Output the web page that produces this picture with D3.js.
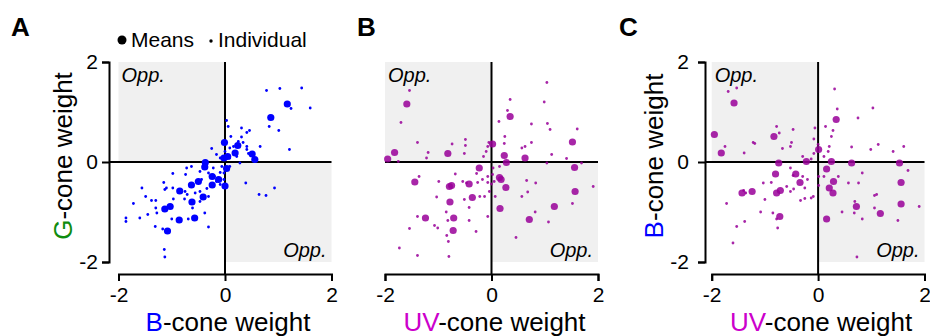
<!DOCTYPE html>
<html>
<head>
<meta charset="utf-8">
<script src="https://cdn.jsdelivr.net/npm/d3@7"></script>
<style>
  body { margin: 0; background: #fff; }
  svg { display: block; font-family: "Liberation Sans", Arial, sans-serif; }
</style>
</head>
<body>
<div id="chart"></div>
<script>
// tick values shared by every panel
const ticks = [-2, 0, 2];

// panel A: B-cone (x) vs G-cone (y)
const aMeans = [
  [1.17, 1.16], [0.86, 0.89], [0.51, 0.16], [0.56, 0.05], [0.24, 0.33], [0.19, 0.18],
  [0.05, 0.11], [-0.01, 0.39], [0.03, -0.13], [-0.02, 0.08], [0.0, -0.48], [-0.12, -0.35],
  [-0.24, -0.46], [-0.24, -0.29], [-0.38, -0.1], [-0.37, -0.01], [-0.41, -0.7], [-0.5, -0.39],
  [-0.63, -0.46], [-0.62, -0.8], [-0.57, -1.12], [-0.85, -0.58], [-1.03, -0.89], [-1.13, -0.94],
  [-0.86, -1.16], [-1.08, -1.38]
];
const aIndiv = [
  [0.78, 1.43], [1.03, 1.47], [1.44, 1.48], [1.24, 1.07], [1.6, 1.08], [0.83, 0.71], [1.01, 0.63],
  [1.21, 0.25], [0.66, 0.31], [0.41, 0.59], [0.31, 0.68], [0.46, 0.63], [0.06, 0.71], [0.03, 0.83],
  [0.11, 0.51], [0.31, 0.5], [0.34, 0.39], [0.41, 0.31], [0.41, 0.25], [0.44, 0.17], [0.28, -0.02],
  [0.39, -0.42], [0.64, -0.65], [0.77, -0.67], [0.93, -0.52], [0.16, 0.31], [0.09, 0.28],
  [0.25, 0.41], [-0.25, 0.27], [-0.16, 0.15], [-0.09, 0.08], [0.0, 0.21], [0.09, 0.08], [0.22, 0.11],
  [-0.72, -0.12], [-0.63, -0.09], [-0.98, -0.23], [-0.74, -0.25], [-0.47, -0.19], [-0.44, -0.35],
  [-0.31, -0.22], [-0.22, -0.12], [-0.09, -0.21], [-0.06, -0.09], [-1.15, -0.41], [-1.13, -0.55],
  [-0.98, -0.52], [-1.1, -0.52], [-1.56, -0.52], [-1.49, -0.69], [-1.38, -0.77], [-1.3, -0.77],
  [-1.72, -0.83], [-1.45, -1.05], [-1.3, -0.92], [-1.28, -1.02], [-0.97, -0.74], [-0.76, -0.74],
  [-0.71, -0.65], [-0.56, -0.62], [-0.47, -0.59], [-0.31, -0.69], [-0.47, -0.79], [-0.61, -0.92],
  [-0.69, -1.14], [-0.38, -1.02], [-0.31, -1.3], [-1.0, -1.14], [-1.6, -1.12], [-1.86, -1.12],
  [-1.86, -1.19], [-1.31, -1.29], [-1.17, -1.34], [-1.14, -1.75], [-1.13, -1.9], [-0.75, -0.59],
  [-0.34, -0.53], [-0.16, -0.39], [-0.2, -0.29], [-0.09, -0.45], [-0.02, -0.35], [-0.02, -0.22],
  [0.03, -0.49], [0.09, -0.09]
];

// panel B: UV-cone (x) vs G-cone (y)
const bMeans = [
  [-1.59, 1.16], [-1.95, 0.06], [-1.82, 0.19], [-0.82, 0.17], [0.02, 0.36], [0.35, 0.91],
  [0.24, 0.13], [0.28, -0.01], [0.63, 0.08], [1.52, 0.4], [1.56, -0.11], [1.57, -0.59],
  [1.18, -0.89], [0.71, -1.15], [0.16, -0.93], [0.27, -0.51], [0.18, -0.35], [0.15, -0.31],
  [-0.23, -0.12], [-0.42, -0.44], [-0.36, -0.71], [-0.75, -0.47], [-0.79, -0.49], [-1.44, -0.4],
  [-0.78, -0.8], [-0.71, -1.12], [-0.72, -1.37], [-1.24, -1.12]
];
const bIndiv = [
  [1.04, 1.59], [-1.54, 1.43], [0.35, 1.25], [0.99, 1.2], [0.3, 1.03], [-1.7, 0.79], [0.14, 0.81],
  [0.75, 0.76], [1.05, 0.77], [1.1, 0.65], [1.61, 0.66], [0.25, 0.51], [-1.39, 0.39], [-0.74, 0.36],
  [-0.49, 0.45], [-0.49, 0.33], [-1.19, 0.19], [-0.51, 0.17], [-1.22, 0.08], [-0.05, 0.39],
  [-0.07, 0.31], [-0.1, 0.21], [-0.15, 0.11], [0.24, 0.37], [0.57, 0.28], [0.63, 0.31], [0.75, 0.39],
  [1.13, 0.15], [1.41, 0.07], [1.69, -0.02], [1.04, -0.02], [1.91, -0.49], [1.52, -0.83],
  [1.07, -1.2], [0.83, -0.42], [0.66, -0.37], [0.68, -0.6], [0.57, -0.69], [0.82, -1.0],
  [0.46, -1.51], [-1.75, 0.01], [-1.36, -0.29], [-0.99, -0.39], [-0.68, -0.24], [-0.54, -0.39],
  [-0.47, -0.42], [-0.28, -0.23], [-0.26, -0.41], [-0.17, -0.35], [-0.07, -0.29], [-0.07, -0.41],
  [0.0, -0.44], [-0.04, -0.59], [0.07, -0.69], [-0.22, -0.69], [-0.13, -0.69], [-0.51, -0.75],
  [-1.03, -0.7], [-0.85, -1.0], [-0.42, -0.91], [-0.42, -1.17], [-0.82, -1.17], [-1.39, -1.09],
  [-1.54, -1.33], [-1.07, -1.27], [-1.01, -1.32], [-0.84, -1.47], [-0.81, -1.59], [-0.29, -1.39],
  [-0.07, -1.09], [-1.73, -1.72], [-1.39, -1.87], [-0.8, -1.89], [0.03, -0.12], [0.05, -0.39],
  [0.02, -0.25], [0.15, -0.09]
];

// panel C: UV-cone (x) vs B-cone (y)
const cMeans = [
  [-1.58, 1.18], [-1.95, 0.55], [-1.82, 0.18], [-0.83, 0.51], [-0.74, -0.02], [-0.8, -0.24],
  [-0.78, -0.62], [-0.71, -0.57], [-0.72, -1.09], [-1.43, -0.62], [-1.24, -0.59], [-0.42, -0.24],
  [-0.34, -0.41], [-0.22, 0.01], [0.01, 0.25], [0.16, -0.14], [0.21, -0.52], [0.28, -0.62],
  [0.29, -0.39], [0.25, 0.01], [0.34, 0.85], [0.63, -0.02], [1.53, -0.02], [1.56, -0.41],
  [1.56, -0.84], [1.17, -1.03], [0.72, -0.89], [0.16, -1.14]
];
const cIndiv = [
  [0.31, 1.46], [-1.53, 1.48], [-1.69, 1.41], [0.36, 1.06], [1.03, 1.08], [0.75, 0.88], [-0.78, 0.71],
  [-0.47, 0.65], [-0.73, 0.58], [-0.06, 0.68], [0.14, 0.71], [0.28, 0.63], [0.25, 0.51], [-0.08, 0.46],
  [-1.22, 0.39], [-1.19, 0.37], [-1.75, 0.31], [-1.39, 0.18], [-0.5, 0.39], [-0.52, 0.31],
  [-0.67, 0.27], [0.21, 0.31], [0.19, 0.21], [0.0, 0.35], [-0.08, 0.17], [-0.29, 0.11], [-0.13, 0.06],
  [0.11, 0.11], [0.63, 0.3], [0.99, 0.25], [1.13, 0.35], [1.41, 0.21], [1.61, 0.31], [1.69, -0.17],
  [1.9, -0.89], [1.5, -1.17], [1.06, -0.67], [1.1, -0.65], [1.06, -0.92], [0.83, -0.22], [0.76, -0.42],
  [0.57, -0.42], [0.69, -0.79], [0.68, -1.02], [0.83, -1.14], [0.45, -1.0], [0.73, -1.9], [0.38, -0.29],
  [0.11, -0.29], [0.01, -0.29], [0.01, -0.47], [-0.09, -0.69], [-0.13, -0.72], [-0.25, -0.73],
  [-0.33, -0.77], [-0.25, -0.52], [-0.2, -0.35], [-0.29, -0.29], [-0.52, -0.12], [-0.47, -0.27],
  [-0.46, -0.54], [-0.52, -0.59], [-0.59, -0.49], [-0.88, -0.41], [-1.03, -0.42], [-1.0, -0.75],
  [-1.08, -1.0], [-0.85, -1.02], [-0.78, -1.14], [-0.76, -1.32], [-1.38, -1.19], [-1.53, -1.29],
  [-1.72, -0.83], [-1.6, -1.62], [-1.4, -0.57], [-1.36, -0.62]
];

const width = 930, height = 336;
const blue = '#0000ff', purple = '#990099', magenta = '#cc00cc', green = '#0f8c0f';
const fontStack = '"Liberation Sans", Arial, sans-serif';

const panels = [
  { letter: 'A', letterX: 11, xr: [118.5, 331.5], yAxisX: 109, yPad: 4, yLabX: 72,
    means: aMeans, indiv: aIndiv, color: blue, opacity: 1,
    xLab: [['B', blue], ['-cone weight', '#000']], yLab: [['G', green], ['-cone weight', '#000']] },
  { letter: 'B', letterX: 357, xr: [385, 598], yAxisX: null,
    means: bMeans, indiv: bIndiv, color: purple, opacity: 0.85,
    xLab: [['UV', magenta], ['-cone weight', '#000']], yLab: null },
  { letter: 'C', letterX: 619, xr: [711.7, 924.5], yAxisX: 705, yPad: 9, yLabX: 663,
    means: cMeans, indiv: cIndiv, color: purple, opacity: 0.85,
    xLab: [['UV', magenta], ['-cone weight', '#000']], yLab: [['B', blue], ['-cone weight', '#000']] }
];

const svg = d3.select('#chart').append('svg')
  .attr('width', width)
  .attr('height', height);

const y = d3.scaleLinear().domain([-2, 2]).range([262, 62]);
const xAxisY = 274;

panels.forEach(p => {
  const x = d3.scaleLinear().domain([-2, 2]).range(p.xr);
  const g = svg.append('g');

  // opponent quadrants
  g.append('rect')
    .attr('x', x(-2)).attr('y', y(2))
    .attr('width', x(0) - x(-2)).attr('height', y(0) - y(2))
    .attr('fill', '#f0f0f0');
  g.append('rect')
    .attr('x', x(0)).attr('y', y(0))
    .attr('width', x(2) - x(0)).attr('height', y(-2) - y(0))
    .attr('fill', '#f0f0f0');

  g.append('text')
    .attr('x', x(-2) + 3).attr('y', 82)
    .style('font-size', '20px').style('font-style', 'italic')
    .text('Opp.');
  g.append('text')
    .attr('x', x(2) - 5).attr('y', 257)
    .attr('text-anchor', 'end')
    .style('font-size', '20px').style('font-style', 'italic')
    .text('Opp.');

  // zero lines
  g.append('line')
    .attr('x1', p.yAxisX != null ? p.yAxisX : x(-2)).attr('x2', x(2))
    .attr('y1', y(0)).attr('y2', y(0))
    .attr('stroke', '#000').attr('stroke-width', 2);
  g.append('line')
    .attr('x1', x(0)).attr('x2', x(0))
    .attr('y1', y(2)).attr('y2', xAxisY)
    .attr('stroke', '#000').attr('stroke-width', 2);

  // individual cells, then means
  g.append('g').selectAll('circle')
    .data(p.indiv)
    .enter()
    .append('circle')
    .attr('cx', d => x(d[0]))
    .attr('cy', d => y(d[1]))
    .attr('r', 1.4)
    .attr('fill', p.color)
    .attr('fill-opacity', p.opacity);
  g.append('g').selectAll('circle')
    .data(p.means)
    .enter()
    .append('circle')
    .attr('cx', d => x(d[0]))
    .attr('cy', d => y(d[1]))
    .attr('r', 3.6)
    .attr('fill', p.color)
    .attr('fill-opacity', p.opacity);

  // x axis
  const xAxis = d3.axisBottom(x).tickValues(ticks).tickSize(7).tickPadding(6)
    .tickFormat(d => String(d));
  const xa = g.append('g')
    .attr('transform', `translate(0,${xAxisY})`)
    .call(xAxis);
  xa.selectAll('path, line').attr('stroke', '#000').attr('stroke-width', 2);
  xa.selectAll('text').style('font-size', '21px').attr('fill', '#000')
    .style('font-family', fontStack);

  // y axis
  if (p.yAxisX != null) {
    const yAxis = d3.axisLeft(y).tickValues(ticks).tickSize(7).tickPadding(p.yPad)
      .tickFormat(d => String(d));
    const ya = g.append('g')
      .attr('transform', `translate(${p.yAxisX},0)`)
      .call(yAxis);
    ya.selectAll('path, line').attr('stroke', '#000').attr('stroke-width', 2);
    ya.selectAll('text').style('font-size', '21px').attr('fill', '#000')
      .style('font-family', fontStack);
  }

  // axis labels
  const xl = g.append('text')
    .attr('x', (p.xr[0] + p.xr[1]) / 2 + 3).attr('y', 331)
    .attr('text-anchor', 'middle')
    .style('font-size', '26px');
  p.xLab.forEach(s => xl.append('tspan').attr('fill', s[1]).text(s[0]));

  if (p.yLab) {
    const yl = g.append('text')
      .attr('transform', `translate(${p.yLabX},156) rotate(-90)`)
      .attr('text-anchor', 'middle')
      .style('font-size', '26px');
    p.yLab.forEach(s => yl.append('tspan').attr('fill', s[1]).text(s[0]));
  }

  // panel letter
  g.append('text')
    .attr('x', p.letterX).attr('y', 36)
    .style('font-size', '26px').style('font-weight', 'bold')
    .text(p.letter);
});

// legend
const leg = svg.append('g');
leg.append('circle').attr('cx', 122).attr('cy', 40).attr('r', 4.5).attr('fill', '#000');
leg.append('text').attr('x', 131).attr('y', 47).style('font-size', '21px').text('Means');
leg.append('circle').attr('cx', 211).attr('cy', 41).attr('r', 1.7).attr('fill', '#000');
leg.append('text').attr('x', 218).attr('y', 47).style('font-size', '21px').text('Individual');
</script>
</body>
</html>
